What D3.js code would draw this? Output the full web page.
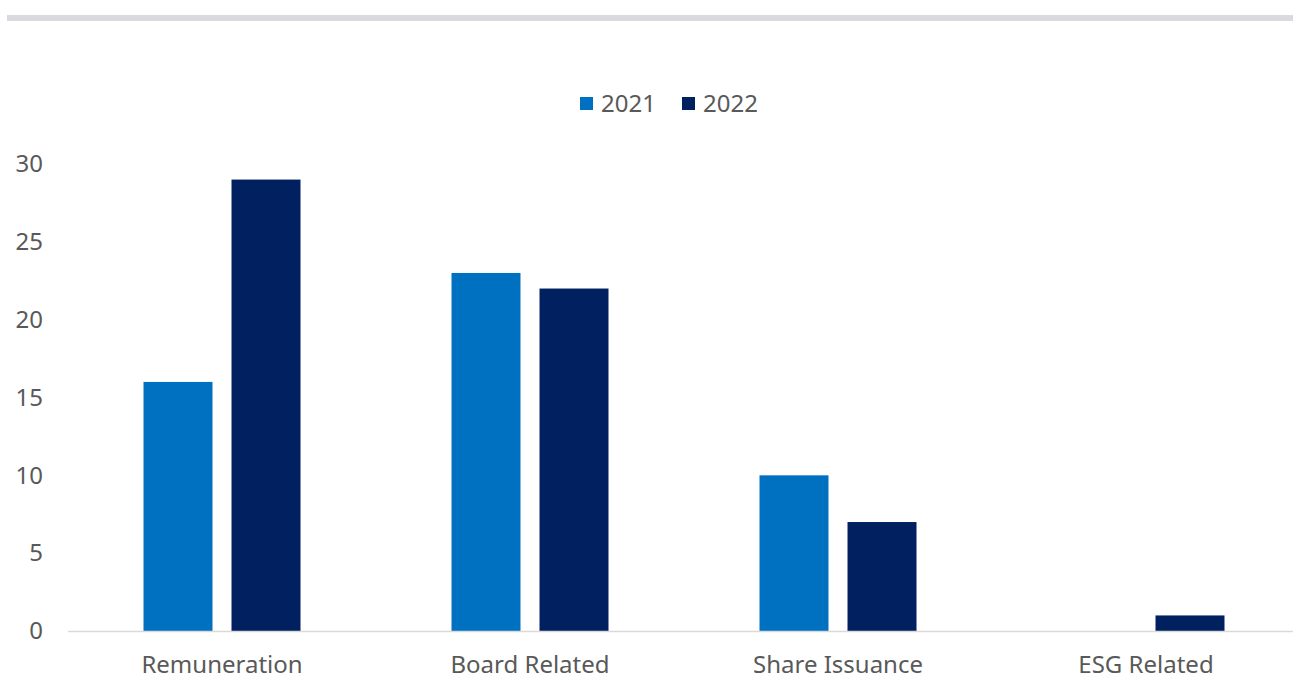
<!DOCTYPE html>
<html>
<head>
<meta charset="utf-8">
<script src="https://cdn.jsdelivr.net/npm/d3@7"></script>
<style>
  html, body { margin: 0; padding: 0; background: #fff; }
  svg { display: block; }
  text { font-family: "Noto Sans", "Open Sans", sans-serif; fill: #595959; }
</style>
</head>
<body>
<svg id="chart" width="1293" height="679"></svg>
<script>
// Resolution categories and counts per year
const categories = ["Remuneration", "Board Related", "Share Issuance", "ESG Related"];
const years = ["2021", "2022"];
const values2021 = [16, 23, 10, 0];
const values2022 = [29, 22, 7, 1];
const yTicks = [0, 5, 10, 15, 20, 25, 30];
const colors = { "2021": "#0070C0", "2022": "#002060" };

const W = 1293, H = 679;
const margin = { left: 68, right: -7, top: 164, bottom: 48 };
const svg = d3.select("#chart");
const FONT = '"Noto Sans", "Open Sans", sans-serif';

// Grey rule across the top
svg.append("rect")
  .attr("x", 7).attr("y", 15).attr("width", W - 7).attr("height", 6)
  .attr("fill", "#D9D9DF");

const x0 = d3.scaleBand().domain(categories)
  .range([margin.left, W - margin.right]).paddingInner(0).paddingOuter(0);
const x1 = d3.scaleBand().domain(years)
  .range([x0.bandwidth() / 2 - 78.5, x0.bandwidth() / 2 + 78.5]).paddingInner(0.216);
const y = d3.scaleLinear().domain([0, 30]).range([H - margin.bottom, margin.top]);

// Y axis labels (no axis line)
const yAxis = svg.append("g")
  .attr("transform", `translate(43,0)`)
  .call(d3.axisLeft(y).tickValues(yTicks).tickSize(0).tickPadding(0));
yAxis.select(".domain").remove();
yAxis.selectAll("text")
  .style("font-family", FONT)
  .style("font-size", "24px").attr("fill", "#595959");

// Bars
const series = { "2021": values2021, "2022": values2022 };
const rows = categories.map((c, i) => ({ cat: c, vals: years.map(yr => ({ yr, v: series[yr][i] })) }));
const groups = svg.append("g").selectAll("g").data(rows).join("g")
  .attr("transform", d => `translate(${x0(d.cat)},0)`);
groups.selectAll("rect").data(d => d.vals.filter(o => o.v > 0)).join("rect")
  .attr("x", d => x1(d.yr))
  .attr("width", x1.bandwidth())
  .attr("y", d => y(d.v))
  .attr("height", d => y(0) - y(d.v))
  .attr("fill", d => colors[d.yr]);

// Baseline and category labels
const xAxis = svg.append("g")
  .attr("transform", `translate(0,${y(0)})`)
  .call(d3.axisBottom(x0).tickSize(0).tickPadding(25));
xAxis.select(".domain").attr("stroke", "#D9D9D9").attr("stroke-width", 1.5)
  .attr("d", `M${margin.left},0.5H${W}`);
xAxis.selectAll("text")
  .style("font-family", FONT)
  .style("font-size", "24px").attr("fill", "#595959");

// Legend
const legend = svg.append("g");
const legendItems = [{ yr: "2021", x: 580 }, { yr: "2022", x: 682 }];
legendItems.forEach(it => {
  legend.append("rect").attr("x", it.x).attr("y", 97).attr("width", 13).attr("height", 13)
    .attr("fill", colors[it.yr]);
  legend.append("text").attr("x", it.x + 21).attr("y", 112)
    .style("font-size", "24px").text(it.yr);
});
</script>
</body>
</html>
